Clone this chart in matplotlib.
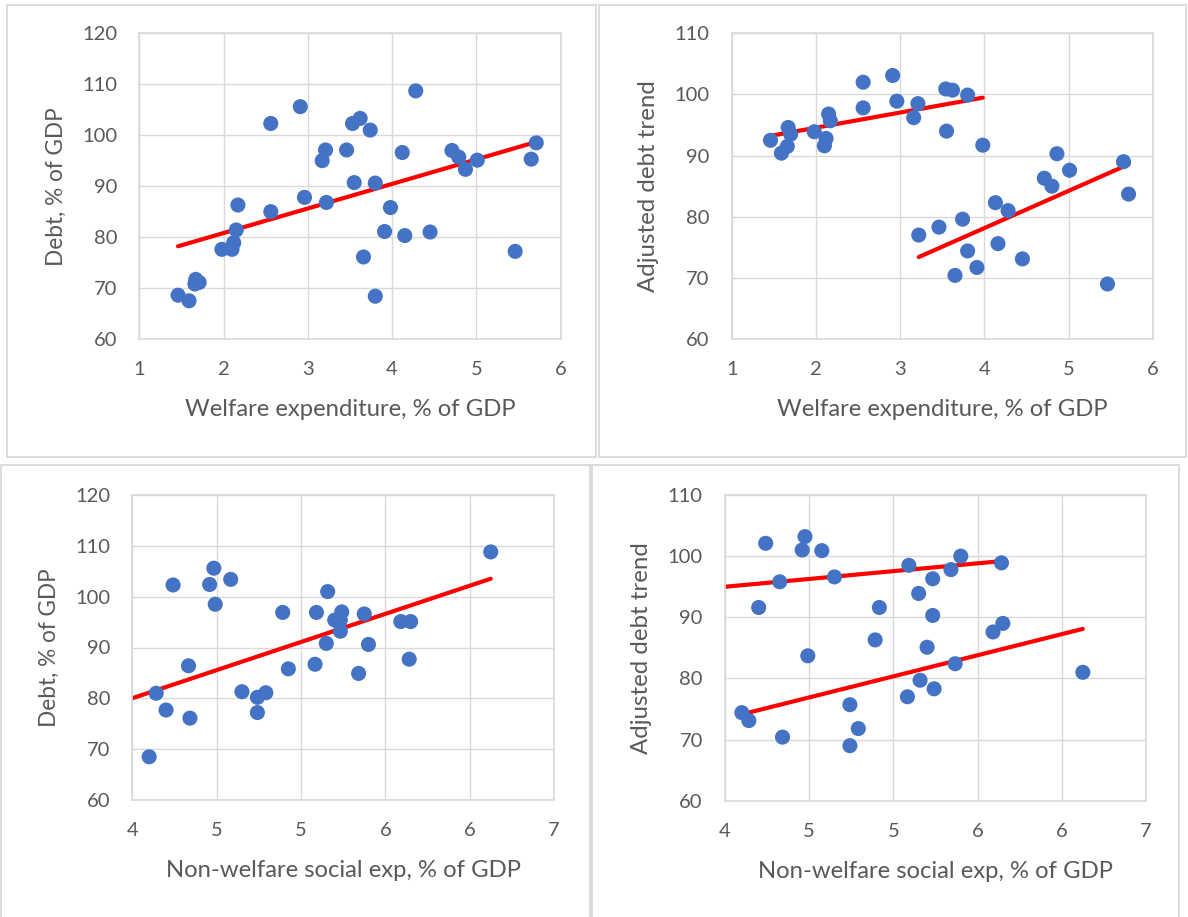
import matplotlib
matplotlib.use("Agg")
import matplotlib.pyplot as plt
from matplotlib.patches import Rectangle
import numpy as np

plt.rcParams['font.family'] = ['Lato', 'DejaVu Sans']

# ---------------- data ----------------
# Top-left: welfare expenditure vs debt
tl_x = [1.46, 1.59, 1.67, 1.71, 1.66, 1.98, 2.10, 2.12, 2.15, 2.17, 2.56, 2.56, 2.91, 2.96,
        3.21, 3.17, 3.22, 3.46, 3.53, 3.62, 3.74, 3.55, 3.80, 3.66, 3.80, 3.98, 3.91, 4.15,
        4.12, 4.28, 4.45, 4.71, 4.79, 4.87, 5.01, 5.46, 5.65, 5.71]
tl_y = [68.6, 67.5, 71.7, 71.1, 70.8, 77.6, 77.6, 78.9, 81.4, 86.3, 102.3, 85.0, 105.6, 87.8,
        97.1, 95.0, 86.8, 97.1, 102.3, 103.3, 101.0, 90.7, 90.6, 76.1, 68.4, 85.8, 81.1, 80.3,
        96.6, 108.7, 81.0, 97.0, 95.7, 93.3, 95.1, 77.2, 95.3, 98.5]
tl_trend = [(4.82, 71.16, 1.46, 5.71)]  # slope, intercept, x start, x end

# Top-right: welfare expenditure vs adjusted debt trend
tr_x = [1.46, 1.59, 1.66, 1.67, 1.70, 1.98, 2.10, 2.12, 2.15, 2.17, 2.56, 2.56, 2.91, 2.96,
        3.21, 3.16, 3.54, 3.62, 3.80, 3.55, 3.98,
        3.22, 3.46, 3.74, 3.80, 3.65, 3.91, 4.13, 4.28, 4.16, 4.45, 4.71, 4.80, 4.86, 5.01,
        5.46, 5.65, 5.71]
tr_y = [92.5, 90.4, 91.5, 94.6, 93.5, 93.9, 91.6, 92.8, 96.8, 95.7, 102.0, 97.8, 103.1, 98.9,
        98.5, 96.2, 100.9, 100.7, 99.9, 94.0, 91.7,
        77.0, 78.3, 79.6, 74.4, 70.4, 71.7, 82.3, 81.0, 75.6, 73.1, 86.3, 85.0, 90.3, 87.6,
        69.0, 89.0, 83.7]
tr_trend = [(2.48, 89.6, 1.46, 3.98), (6.09, 53.79, 3.22, 5.71)]

# Bottom-left: non-welfare social expenditure vs debt
bl_x = [4.12, 4.17, 4.24, 4.29, 4.40, 4.41, 4.58, 4.55, 4.59, 4.70, 4.78, 4.89, 4.95, 4.89,
        5.07, 5.11, 5.30, 5.31, 5.39, 5.38, 5.49, 5.44, 5.48, 5.48, 5.65, 5.68, 5.61, 5.91,
        5.98, 5.97, 6.55]
bl_y = [68.5, 81.0, 77.7, 102.3, 86.4, 76.1, 105.6, 102.4, 98.5, 103.4, 81.3, 80.2, 81.1, 77.2,
        96.9, 85.8, 86.7, 96.9, 101.0, 90.8, 97.0, 95.4, 95.4, 93.2, 96.6, 90.6, 84.9, 95.1,
        95.1, 87.7, 108.8]
bl_trend = [(9.22, 43.14, 3.8, 6.55)]

# Bottom-right: non-welfare social expenditure vs adjusted debt trend
br_x = [4.29, 4.57, 4.55, 4.69, 4.39, 4.78, 4.24, 4.59, 5.10, 5.07, 5.31, 5.61, 5.68, 5.97,
        5.48, 5.38, 5.48, 5.44, 5.91, 5.98, 5.64, 6.55, 5.39, 5.49, 5.30, 4.12, 4.17, 4.41,
        4.89, 4.95, 4.89]
br_y = [102.1, 103.2, 101.0, 100.9, 95.8, 96.6, 91.6, 83.7, 91.6, 86.3, 98.5, 97.8, 100.0, 98.9,
        96.3, 93.9, 90.3, 85.1, 87.6, 89.0, 82.4, 81.0, 79.7, 78.3, 77.0, 74.4, 73.1, 70.4,
        75.7, 71.8, 69.0]
br_trend = [(2.13, 86.47, 3.8, 5.97), (5.75, 50.44, 4.12, 6.55)]

welfare_xticks = [1, 2, 3, 4, 5, 6]
nonwelfare_xticks = [4.0, 4.6, 5.2, 5.8, 6.4, 7.0]
debt_yticks = [60, 70, 80, 90, 100, 110, 120]
adj_yticks = [60, 70, 80, 90, 100, 110]

xlabel_welfare = "Welfare expenditure, % of GDP"
xlabel_nonwelfare = "Non-welfare social exp, % of GDP"
ylabel_debt = "Debt, % of GDP"
ylabel_adj = "Adjusted debt trend"

# ---------------- styling ----------------
W, H = 1188, 917
DOT = '#4472C4'
RED = '#FF0000'
GRID = '#D9D9D9'
TXT = '#595959'
FS = 14.5

fig = plt.figure(figsize=(W / 100, H / 100), dpi=100)
fig.patch.set_facecolor('white')


def frac_rect(x0, y0, x1, y1):
    return (x0 / W, 1 - y1 / H, (x1 - x0) / W, (y1 - y0) / H)


# chart frames
for (x0, y0, x1, y1) in [(6.7, 4.7, 595.7, 457), (598.7, 4.7, 1185.5, 457),
                         (1, 465, 590, 940), (592.3, 465.3, 1179, 940)]:
    r = frac_rect(x0, y0, x1, y1)
    fig.patches.append(Rectangle((r[0], r[1]), r[2], r[3], transform=fig.transFigure,
                                 fill=False, edgecolor=GRID, lw=1.3, zorder=0))


def panel(rect_px, xs, ys, trends, xlim, xticks, ylim, yticks, xlabel, ylabel, yfs):
    ax = fig.add_axes(frac_rect(*rect_px))
    ax.set_xlim(*xlim)
    ax.set_ylim(*ylim)
    ax.set_xticks(xticks)
    ax.set_xticklabels([f"{t:.0f}" for t in xticks])
    ax.set_yticks(yticks)
    ax.grid(True, color=GRID, lw=1.0)
    ax.set_axisbelow(True)
    for s in ax.spines.values():
        s.set_color(GRID)
        s.set_linewidth(1.2)
    ax.tick_params(length=0, labelsize=FS, labelcolor=TXT)
    ax.tick_params(axis='y', pad=16)
    ax.tick_params(axis='x', pad=16)
    for (m, b, xa, xb) in trends:
        tx = np.array([xa, xb])
        ax.plot(tx, m * tx + b, color=RED, lw=3.0, solid_capstyle='round', zorder=2)
    ax.scatter(xs, ys, s=118, color=DOT, edgecolors='none', zorder=3, clip_on=False)
    ax.set_xlabel(xlabel, fontsize=17.2, color=TXT, labelpad=15)
    ax.set_ylabel(ylabel, fontsize=yfs, color=TXT, labelpad=11)
    return ax


panel((139.3, 33.3, 560.7, 339), tl_x, tl_y, tl_trend, (1, 6), welfare_xticks,
      (60, 120), debt_yticks, xlabel_welfare, ylabel_debt, 16.3)
panel((731.7, 33.3, 1153, 339), tr_x, tr_y, tr_trend, (1, 6), welfare_xticks,
      (60, 110), adj_yticks, xlabel_welfare, ylabel_adj, 17.3)
panel((132.3, 495, 554, 800), bl_x, bl_y, bl_trend, (4, 7), nonwelfare_xticks,
      (60, 120), debt_yticks, xlabel_nonwelfare, ylabel_debt, 16.3)
panel((725, 495, 1146, 800.7), br_x, br_y, br_trend, (4, 7), nonwelfare_xticks,
      (60, 110), adj_yticks, xlabel_nonwelfare, ylabel_adj, 17.3)

fig.savefig("out.png", dpi=100)
